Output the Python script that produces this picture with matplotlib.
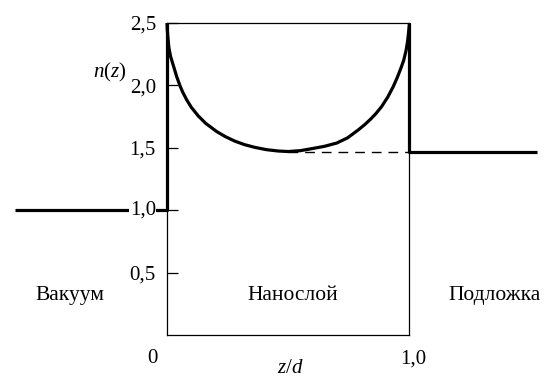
import numpy as np
import matplotlib
matplotlib.use('Agg')
import matplotlib.pyplot as plt

plt.rcParams['font.family'] = ['Liberation Serif', 'DejaVu Serif']
plt.rcParams['mathtext.fontset'] = 'custom'
plt.rcParams['mathtext.it'] = 'Liberation Serif:italic'
plt.rcParams['mathtext.rm'] = 'Liberation Serif'

# refractive index profile
z_layer = [0.0, 0.001, 0.003, 0.008, 0.015, 0.026, 0.04, 0.054, 0.065, 0.081,
           0.10, 0.129, 0.16, 0.205, 0.24, 0.280, 0.32, 0.363, 0.41, 0.459,
           0.50, 0.55, 0.60, 0.65, 0.70, 0.745, 0.79, 0.815, 0.84, 0.862,
           0.885, 0.91, 0.933, 0.95, 0.965, 0.976, 0.986, 0.992, 0.996, 1.0]
n_layer = [2.5, 2.45, 2.40, 2.30, 2.23, 2.16, 2.07, 1.995, 1.945, 1.885,
           1.825, 1.755, 1.695, 1.63, 1.59, 1.553, 1.525, 1.503, 1.485, 1.474,
           1.47, 1.477, 1.494, 1.512, 1.538, 1.58, 1.645, 1.685, 1.73, 1.775,
           1.83, 1.905, 1.99, 2.065, 2.14, 2.20, 2.28, 2.35, 2.42, 2.5]
z_vacuum = [-0.625, 0.0, 0.0]
n_vacuum = [1.0, 1.0, 2.5]
z_substrate = [1.0, 1.0, 1.526]
n_substrate = [2.5, 1.47, 1.47]
z_dashed = [0.50, 1.0]
n_dashed = [1.47, 1.47]

yticks = [0.5, 1.0, 1.5, 2.0, 2.5]
ytick_labels = ['0,5', '', '1,5', '2,0', '2,5']
regions = ['Вакуум', 'Нанослой', 'Подложка']
region_x = [-0.4, 0.52, 1.35]

fig = plt.figure(figsize=(5.47, 3.78), dpi=100)
ax = fig.add_axes([0.3053, 0.1138, 0.4433, 0.8254])
ax.set_xlim(0, 1)
ax.set_ylim(0, 2.5)

for s in ax.spines.values():
    s.set_linewidth(0.9)

thick = 2.3
ax.plot(z_layer, n_layer, color='black', lw=thick, clip_on=False,
        solid_capstyle='butt', solid_joinstyle='round')
ax.plot(z_vacuum, n_vacuum, color='black', lw=thick, clip_on=False, solid_capstyle='butt')
ax.plot(z_substrate, n_substrate, color='black', lw=thick, clip_on=False, solid_capstyle='butt')
ax.plot(z_dashed, n_dashed, color='black', lw=1.0, ls=(0, (7, 5)), clip_on=False)

ax.set_xticks([])
ax.set_yticks(yticks)
ax.set_yticklabels(ytick_labels, fontsize=15)
ax.tick_params(axis='y', direction='in', length=8, width=0.9, pad=8)

# label "1,0" with white background over the vacuum line
ax.text(-0.046, 1.0, '1,0', fontsize=15, ha='right', va='center',
        bbox=dict(facecolor='white', edgecolor='none', pad=0.5))
ax.plot([-0.03, 0.0], [1.0, 1.0], color='black', lw=0.9, clip_on=False)

ax.text(-0.235, 2.1, '$n(z)$', fontsize=15, ha='center', va='center')
ax.text(-0.06, -0.19, '0', fontsize=15, ha='center', va='center')
ax.text(1.015, -0.19, '1,0', fontsize=15, ha='center', va='center')
ax.text(0.51, -0.27, '$z/d$', fontsize=15, ha='center', va='center')

for name, x in zip(regions, region_x):
    ax.text(x, 0.32, name, fontsize=15.5, ha='center', va='center')

fig.savefig('out.png', dpi=100)
